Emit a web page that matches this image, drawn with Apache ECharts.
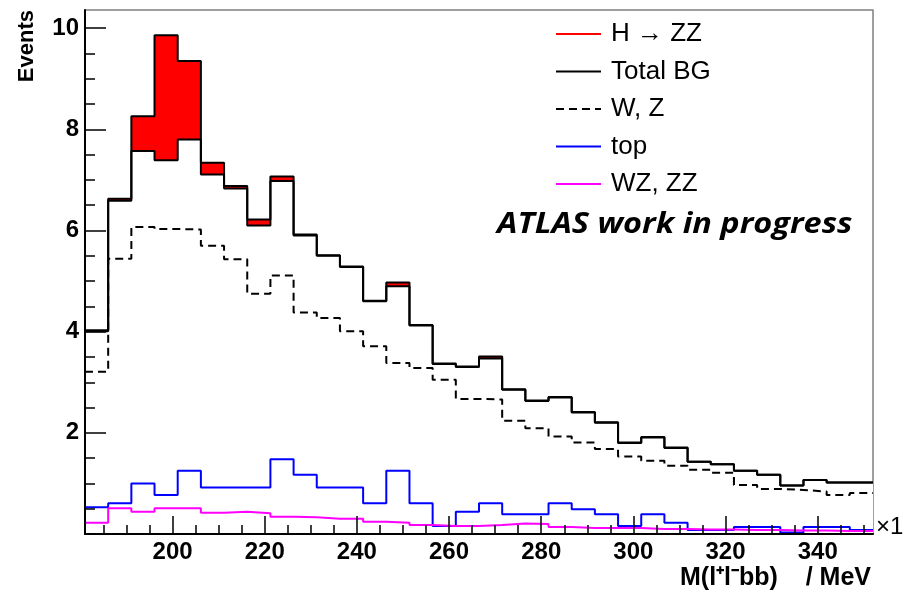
<!DOCTYPE html>
<html><head><meta charset="utf-8">
<script src="https://cdn.jsdelivr.net/npm/echarts@6/dist/echarts.min.js"></script>
<style>html,body{margin:0;padding:0;background:#fff}#c{width:904px;height:591px}</style>
</head><body><div id="c"></div>
<script>
// Histogram binning (MeV)
const binLow = 181, binHigh = 352, nBins = 34;
// Bin contents (events per bin), left to right
const totalBG = [4.01, 6.59, 7.57, 7.39, 7.80, 7.11, 6.83, 6.10, 6.98, 5.90, 5.50, 5.28, 4.60, 4.90, 4.12, 3.36, 3.30, 3.47, 2.85, 2.63, 2.70, 2.40, 2.20, 1.80, 1.91, 1.70, 1.43, 1.38, 1.25, 1.17, 0.96, 1.07, 1.02, 1.02];
const signalH = [0.02, 0.04, 0.69, 2.47, 1.55, 0.23, 0.05, 0.12, 0.09, 0.02, 0.01, 0.01, 0.01, 0.07, 0.01, 0.01, 0.01, 0.04, 0.01, 0.01, 0.01, 0.01, 0.01, 0.01, 0.01, 0.01, 0, 0, 0, 0, 0, 0, 0, 0];
const wzBG = [3.21, 5.44, 6.07, 6.03, 6.02, 5.70, 5.43, 4.75, 5.11, 4.38, 4.27, 4.01, 3.71, 3.38, 3.28, 3.05, 2.67, 2.66, 2.24, 2.09, 1.93, 1.81, 1.68, 1.53, 1.45, 1.35, 1.27, 1.21, 0.97, 0.89, 0.87, 0.84, 0.77, 0.81];
const topBG = [0.53, 0.61, 1.00, 0.77, 1.25, 0.92, 0.92, 0.92, 1.48, 1.17, 0.92, 0.92, 0.61, 1.25, 0.61, 0.16, 0.44, 0.61, 0.39, 0.39, 0.61, 0.49, 0.39, 0.16, 0.39, 0.22, 0.08, 0.08, 0.14, 0.14, 0.03, 0.14, 0.14, 0.08];
const dibosonBG = [0.22, 0.51, 0.44, 0.51, 0.51, 0.42, 0.44, 0.41, 0.34, 0.33, 0.30, 0.30, 0.24, 0.22, 0.18, 0.16, 0.16, 0.18, 0.21, 0.20, 0.14, 0.12, 0.12, 0.12, 0.10, 0.10, 0.09, 0.09, 0.08, 0.08, 0.07, 0.07, 0.06, 0.06];
// Axis ticks
const xTickLabels = [200, 220, 240, 260, 280, 300, 320, 340];
const xMinorTicks = [185, 190, 195, 200, 205, 210, 215, 220, 225, 230, 235, 240, 245, 250, 255, 260, 265, 270, 275, 280, 285, 290, 295, 300, 305, 310, 315, 320, 325, 330, 335, 340, 345, 350];
const yMajorTicks = [0, 2, 4, 6, 8, 10];
const yTickLabels = [2, 4, 6, 8, 10];
const yMinorTicks = [0.5, 1, 1.5, 2, 2.5, 3, 3.5, 4, 4.5, 5, 5.5, 6, 6.5, 7, 7.5, 8, 8.5, 9, 9.5, 10];
const yMax = 10.36;

const binWidth = (binHigh - binLow) / nBins;
const edges = Array.from({length: nBins + 1}, (_, i) => binLow + i * binWidth);
function stepData(vals) {
  return edges.map((e, i) => [e, vals[Math.min(i, vals.length - 1)]]);
}
const stackedH = totalBG.map((v, i) => v + signalH[i]);

const FONT = '"Liberation Sans", Arial, sans-serif';
const chart = echarts.init(document.getElementById('c'), null, {renderer: 'canvas'});

function lineSeries(name, vals, lineStyle, extra) {
  return Object.assign({
    name, type: 'line', step: 'end', data: stepData(vals),
    symbol: 'none', showSymbol: false, silent: true,
    emphasis: {disabled: true},
    lineStyle: Object.assign({width: 2}, lineStyle),
    itemStyle: {color: lineStyle.color}
  }, extra || {});
}

const tickLine = {color: '#000', width: 1.5};
const noSymbol = {color: 'transparent', borderWidth: 0, opacity: 0};

chart.setOption({
  animation: false,
  backgroundColor: '#fff',
  grid: {left: 85, right: 31, top: 10, bottom: 57, show: true, borderColor: '#808080', borderWidth: 1.5, backgroundColor: 'transparent', outerBoundsMode: 'none'},
  legend: {
    orient: 'vertical', left: 550, top: 14, itemWidth: 45, itemHeight: 14, itemGap: 7.5,
    selectedMode: false,
    itemStyle: noSymbol,
    textStyle: {fontFamily: FONT, fontSize: 26, color: '#000', lineHeight: 30, padding: [0, 0, 0, 5]},
    data: [
      {name: 'H → ZZ', lineStyle: {color: '#ff0000', width: 2}, itemStyle: noSymbol},
      {name: 'Total BG'},
      {name: 'W, Z'},
      {name: 'top'},
      {name: 'WZ, ZZ'}
    ]
  },
  xAxis: [
    {type: 'value', min: binLow, max: binHigh, position: 'bottom', z: 10,
     axisLine: {show: true, onZero: false, lineStyle: {color: '#000', width: 2}},
     axisTick: {show: true, inside: true, length: 18, customValues: xTickLabels, lineStyle: tickLine},
     axisLabel: {show: true, customValues: xTickLabels, fontFamily: FONT, fontWeight: 'bold', fontSize: 24, color: '#000', margin: 6},
     splitLine: {show: false}},
    {type: 'value', min: binLow, max: binHigh, position: 'bottom', z: 10,
     axisLine: {show: false},
     axisTick: {show: true, inside: true, length: 9, customValues: xMinorTicks, lineStyle: tickLine},
     axisLabel: {show: false},
     splitLine: {show: false}}
  ],
  yAxis: [
    {type: 'value', min: 0, max: yMax, position: 'left', z: 10,
     axisLine: {show: true, onZero: false, lineStyle: {color: '#000', width: 2}},
     axisTick: {show: true, inside: true, length: 21, customValues: yMajorTicks, lineStyle: tickLine},
     axisLabel: {show: true, customValues: yTickLabels, fontFamily: FONT, fontWeight: 'bold', fontSize: 24, color: '#000', margin: 6},
     splitLine: {show: false}},
    {type: 'value', min: 0, max: yMax, position: 'left', z: 10,
     axisLine: {show: false},
     axisTick: {show: true, inside: true, length: 10, customValues: yMinorTicks, lineStyle: tickLine},
     axisLabel: {show: false},
     splitLine: {show: false}}
  ],
  series: [
    lineSeries('H → ZZ', stackedH, {color: '#000'}, {areaStyle: {color: '#ff0000', opacity: 1}, itemStyle: {color: '#ff0000'}}),
    lineSeries('Total BG', totalBG, {color: '#000'}, {areaStyle: {color: '#ffffff', opacity: 1}}),
    lineSeries('W, Z', wzBG, {color: '#000', type: [8, 5]}),
    lineSeries('top', topBG, {color: '#0000ff'}),
    lineSeries('WZ, ZZ', dibosonBG, {color: '#ff00ff'})
  ],
  graphic: [
    {type: 'text', x: 27, y: 10, rotation: Math.PI / 2, silent: true,
     style: {text: 'Events', font: 'bold 22px ' + FONT, fill: '#000', align: 'right', textAlign: 'right', verticalAlign: 'middle', textVerticalAlign: 'middle'}},
    {type: 'text', x: 871, y: 578, silent: true,
     style: {text: 'M(l⁺l⁻bb)    / MeV', font: 'bold 25px ' + FONT, fill: '#000', align: 'right', textAlign: 'right', verticalAlign: 'middle', textVerticalAlign: 'middle'}},
    {type: 'text', x: 497, y: 225, scaleX: 1.12, silent: true,
     style: {text: 'ATLAS work in progress', font: 'italic bold 29px "Open Sans", sans-serif', fill: '#000', align: 'left', textAlign: 'left', verticalAlign: 'middle', textVerticalAlign: 'middle'}},
    {type: 'text', x: 876, y: 527, silent: true,
     style: {text: '×1', font: '24px ' + FONT, fill: '#000', align: 'left', textAlign: 'left', verticalAlign: 'middle', textVerticalAlign: 'middle'}}
  ]
});
</script></body></html>
